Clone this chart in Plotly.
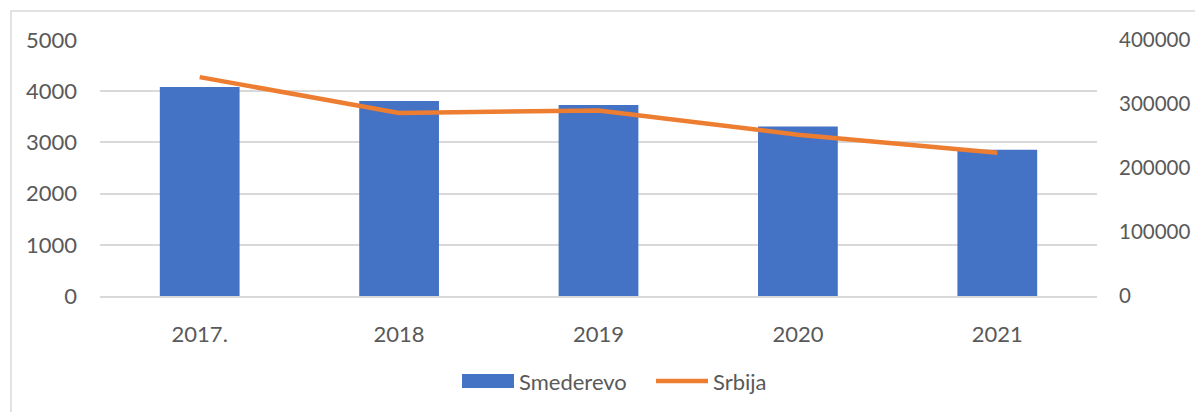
import plotly.graph_objects as go

years = ["2017.", "2018", "2019", "2020", "2021"]
smederevo = [4080, 3810, 3730, 3310, 2855]
srbija = [342000, 286000, 290000, 252000, 224000]
left_ticks = [0, 1000, 2000, 3000, 4000, 5000]
right_ticks = [0, 100000, 200000, 300000, 400000]
legend_names = ["Smederevo", "Srbija"]

W, H = 1195, 412
ml, mr, mt, mb = 100, 98, 40, 116
pw, ph = W - ml - mr, H - mt - mb

font_family = "Lato, 'Open Sans', sans-serif"
txt = "#595959"
blue = "#4472C4"
orange = "#ED7D31"
fs = 22

fig = go.Figure()
fig.add_trace(go.Bar(x=years, y=smederevo, name=legend_names[0],
                     marker=dict(color=blue, line=dict(width=0)), yaxis="y"))
fig.add_trace(go.Scatter(x=years, y=srbija, name=legend_names[1], mode="lines",
                         line=dict(color=orange, width=4.5), yaxis="y2"))

def px_x(x):
    return (x - ml) / pw

def px_y(y):
    return (H - mb - y) / ph

# outer chart border
fig.add_shape(type="rect", xref="paper", yref="paper",
              x0=px_x(11), x1=px_x(1205), y0=px_y(11), y1=px_y(425),
              line=dict(color="#D9D9D9", width=1.5), fillcolor="rgba(0,0,0,0)", layer="below")

# legend drawn to match the reference's wide swatches
ly = px_y(381)
fig.add_shape(type="rect", xref="paper", yref="paper",
              x0=px_x(462), x1=px_x(514), y0=px_y(388), y1=px_y(374),
              line=dict(width=0), fillcolor=blue)
fig.add_annotation(xref="paper", yref="paper", x=px_x(517), y=ly, text=legend_names[0],
                   showarrow=False, xanchor="left", yanchor="middle",
                   font=dict(size=fs, color=txt, family=font_family))
fig.add_shape(type="line", xref="paper", yref="paper",
              x0=px_x(656), x1=px_x(708), y0=ly, y1=ly,
              line=dict(color=orange, width=4.5))
fig.add_annotation(xref="paper", yref="paper", x=px_x(711), y=ly, text=legend_names[1],
                   showarrow=False, xanchor="left", yanchor="middle",
                   font=dict(size=fs, color=txt, family=font_family))

fig.update_layout(
    width=W, height=H,
    margin=dict(l=ml, r=mr, t=mt, b=mb, autoexpand=False),
    paper_bgcolor="white", plot_bgcolor="white",
    font=dict(family=font_family, size=fs, color=txt),
    bargap=0.6,
    showlegend=False,
    xaxis=dict(type="category", showgrid=False, showline=True, linecolor="#D9D9D9",
               linewidth=1.5, ticks="", ticklabelstandoff=18, zeroline=False,
               automargin=False),
    yaxis=dict(range=[0, 5000], tickvals=left_ticks, showgrid=True, gridcolor="#D9D9D9",
               gridwidth=1.5, zeroline=False, showline=False, ticks="",
               ticklabelstandoff=22, automargin=False),
    yaxis2=dict(range=[0, 400000], tickvals=right_ticks, overlaying="y", side="right",
                showgrid=False, zeroline=False, showline=False, ticks="",
                ticklabelstandoff=21, tickformat="d", automargin=False,
                tickfont=dict(size=20.5)),
)

fig.write_html("out.html", config={"displayModeBar": False},
               post_script="document.body.style.margin='0';document.body.style.overflow='hidden';")
